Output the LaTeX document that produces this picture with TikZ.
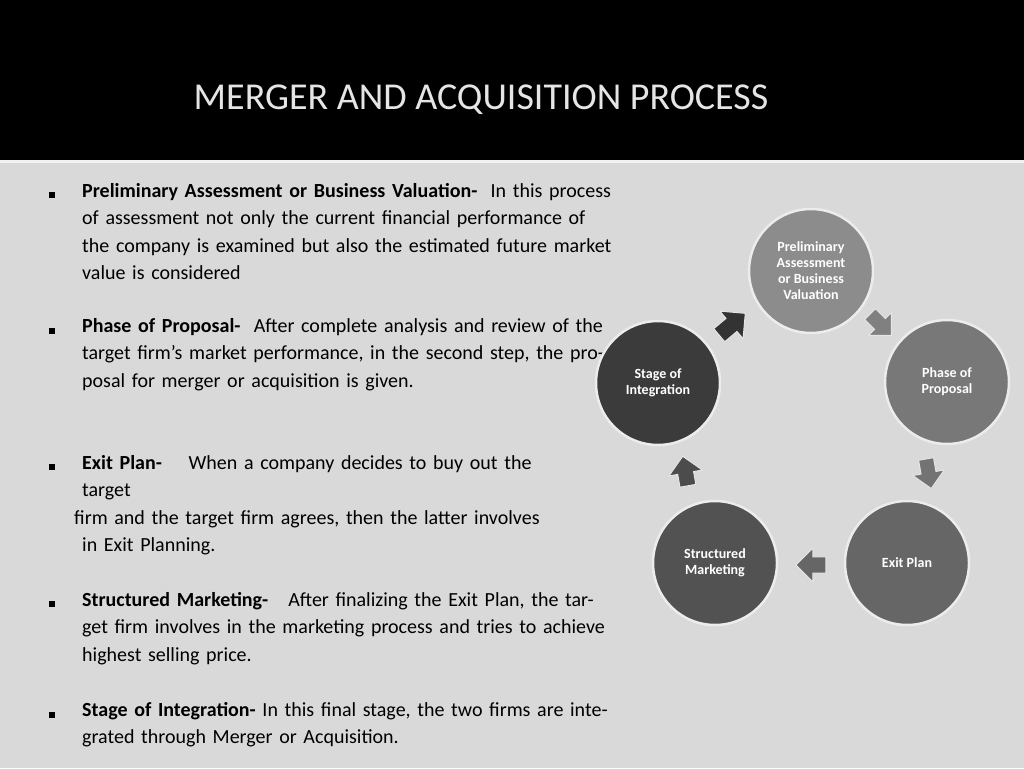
\documentclass[tikz,border=0pt]{standalone}
\usepackage{fontspec}
\setmainfont{Carlito}
\usetikzlibrary{shapes.arrows}
\definecolor{bg}{HTML}{D9D9D9}
\tikzset{
 ball/.style={circle,minimum size=124pt,inner sep=0pt,draw=white!85!gray,line width=2.5pt,text=white,font=\fontsize{14}{16}\selectfont\bfseries,align=center},
 barrow/.style={single arrow,minimum height=34pt,minimum width=36pt,single arrow head extend=5pt,inner sep=4pt,draw=white!80!gray,line width=1pt},
 body/.style={anchor=north west,align=left,text width=530pt,font=\fontsize{20}{27.5}\selectfont,inner sep=0pt},
 bul/.style={fill=black,minimum size=6pt,inner sep=0pt}
}
\begin{document}
\begin{tikzpicture}[x=1pt,y=-1pt]
\useasboundingbox (0,0) rectangle (1024,768);
\fill[bg] (0,0) rectangle (1024,768);
\fill[black] (0,0) rectangle (1024,160);
\fill[white!90!gray] (0,160) rectangle (1024,163);
\node[font=\fontsize{38}{40}\selectfont,text=white!80!gray] (title) at (481,100) {MERGER AND ACQUISITION PROCESS};

\node[body] (t1) at (82,183) {\textbf{Preliminary Assessment or Business Valuation-}\ \ In this process of assessment not only the current financial performance of the company is examined but also the estimated future market value is considered};
\node[body] (t2) at (82,318) {\textbf{Phase of Proposal-}\ \ After complete analysis and review of the target firm's market performance, in the second step, the proposal for merger or acquisition is given.};
\node[body,text width=600pt] (t3) at (82,455) {\textbf{Exit Plan-}\ \ \ \ When a company decides to buy out the\\target\\[-0.0pt]\hspace*{-8pt}firm and the target firm agrees, then the latter involves\\in Exit Planning.};
\node[body] (t4) at (82,592) {\textbf{Structured Marketing-}\ \ \ After finalizing the Exit Plan, the target firm involves in the marketing process and tries to achieve highest selling price.};
\node[body] (t5) at (82,702) {\textbf{Stage of Integration-} In this final stage, the two firms are integrated through Merger or Acquisition.};
\foreach \y/\n in {195/b1,331/b2,467/b3,604/b4,715/b5} \node[bul] (\n) at (52,\y) {};

\node[ball,fill=black!45] (p) at (811,271) {Preliminary\\Assessment\\or Business\\Valuation};
\node[ball,fill=black!53] (ph) at (947,382) {Phase of\\Proposal};
\node[ball,fill=black!60] (ex) at (907,563) {Exit Plan};
\node[ball,fill=black!68] (sm) at (715,563) {Structured\\Marketing};
\node[ball,fill=black!77] (si) at (658,383) {Stage of\\Integration};

\node[barrow,fill=black!80,rotate=40] (a1) at (729,327) {};
\node[barrow,fill=black!50,rotate=-45,minimum height=30pt,minimum width=32pt] (a2) at (878,322) {};
\node[barrow,fill=black!55,rotate=-80,minimum height=30pt,minimum width=32pt] (a3) at (928,470) {};
\node[barrow,fill=black!60,rotate=180,minimum height=30pt,minimum width=34pt] (a4) at (815,565) {};
\node[barrow,fill=black!70,rotate=100,minimum height=30pt,minimum width=34pt] (a5) at (686,475) {};
\end{tikzpicture}
\end{document}
